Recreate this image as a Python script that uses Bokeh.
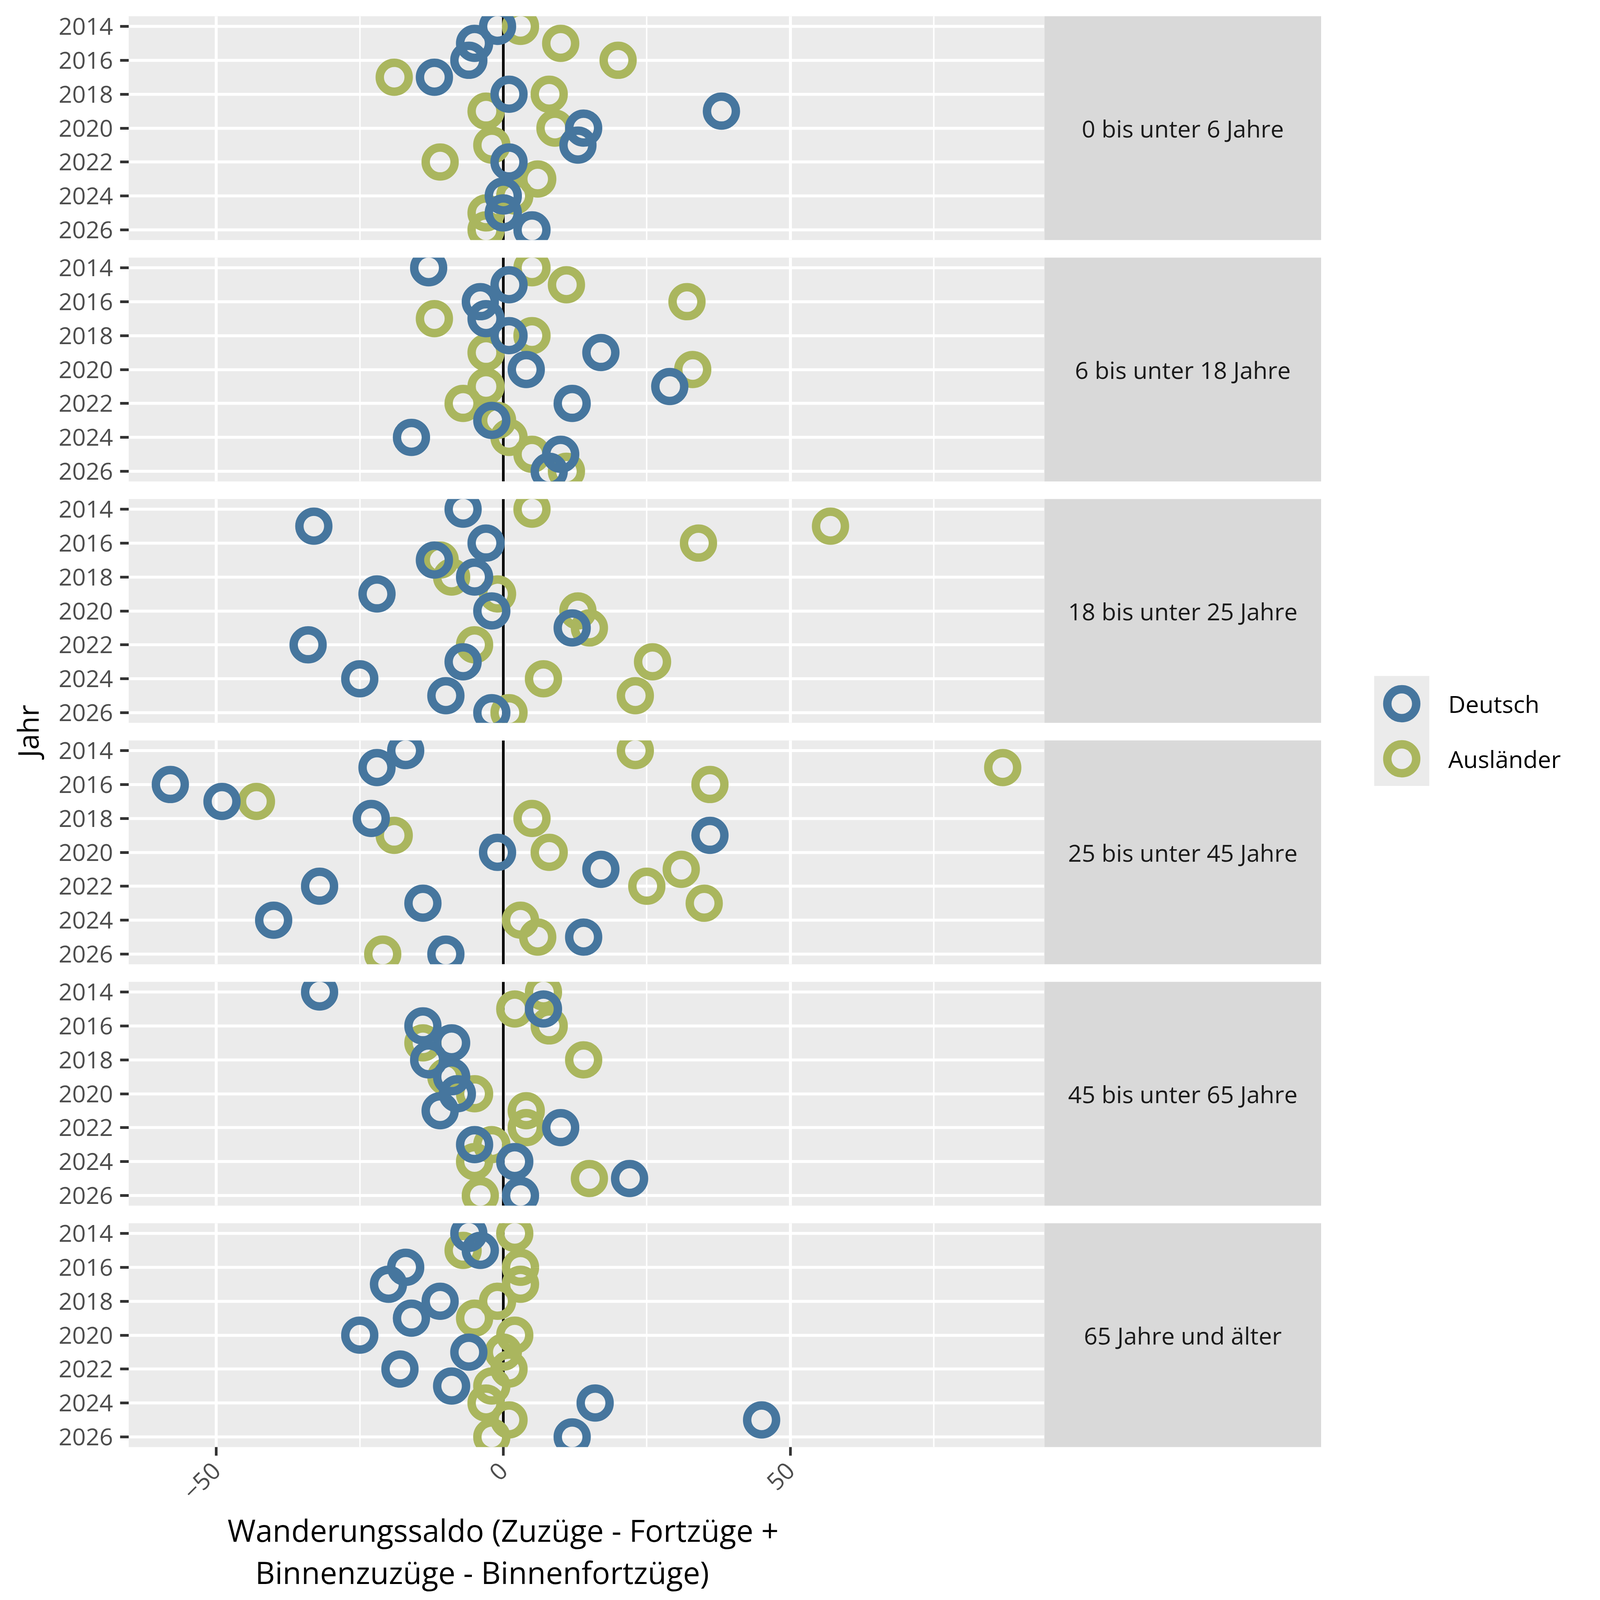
import math
from bokeh.plotting import figure
from bokeh.layouts import row, column
from bokeh.models import Range1d, FixedTicker, Spacer, Title
from bokeh.core.properties import value
from bokeh.embed import file_html
from bokeh.resources import INLINE

# ---------------- data ----------------
nan = float("nan")
years = list(range(2014, 2027))
age_groups = ["0 bis unter 6 Jahre", "6 bis unter 18 Jahre", "18 bis unter 25 Jahre",
              "25 bis unter 45 Jahre", "45 bis unter 65 Jahre", "65 Jahre und älter"]
series_names = ["Deutsch", "Ausländer"]
series_colors = ["#46769E", "#AAB65E"]

deutsch_0_6 = [-1, -5, -6, -12, 1, 38, 14, 13, 1, nan, 0, 0, 5]
auslaender_0_6 = [3, 10, 20, -19, 8, -3, 9, -2, -11, 6, 2, -3, -3]
deutsch_6_18 = [-13, 1, -4, -3, 1, 17, 4, 29, 12, -2, -16, 10, 8]
auslaender_6_18 = [5, 11, 32, -12, 5, -3, 33, -3, -7, -1, 1, 5, 11]
deutsch_18_25 = [-7, -33, -3, -12, -5, -22, -2, 12, -34, -7, -25, -10, -2]
auslaender_18_25 = [5, 57, 34, -11, -9, -1, 13, 15, -5, 26, 7, 23, 1]
deutsch_25_45 = [-17, -22, -58, -49, -23, 36, -1, 17, -32, -14, -40, 14, -10]
auslaender_25_45 = [23, 87, 36, -43, 5, -19, 8, 31, 25, 35, 3, 6, -21]
deutsch_45_65 = [-32, 7, -14, -9, -13, -9, -8, -11, 10, -5, 2, 22, 3]
auslaender_45_65 = [7, 2, 8, -14, 14, -10, -5, 4, 4, -2, -5, 15, -4]
deutsch_65 = [-6, -4, -17, -20, -11, -16, -25, -6, -18, -9, 16, 45, 12]
auslaender_65 = [2, -7, 3, 3, -1, -5, 2, 0, 1, -2, -3, 1, -2]

deutsch = [deutsch_0_6, deutsch_6_18, deutsch_18_25, deutsch_25_45, deutsch_45_65, deutsch_65]
auslaender = [auslaender_0_6, auslaender_6_18, auslaender_18_25, auslaender_25_45,
              auslaender_45_65, auslaender_65]

y_ticks = [2014, 2016, 2018, 2020, 2022, 2024, 2026]
x_ticks = [-50, 0, 50]
x_minor_ticks = [-75, -25, 25, 75]
x_title_lines = ["Wanderungssaldo (Zuzüge - Fortzüge +", "Binnenzuzüge - Binnenfortzüge)"]
y_title = "Jahr"

# ---------------- layout constants (pixels) ----------------
FONT = "Open Sans"
LEFT_W = 120
AXIS_BORDER = 209
FRAME_W = 2344
FRAME_H = 573
STRIP_W = 709
PAD = 22            # white border above/below each panel (room for tick labels)
GAP_SPACER = 1
TOP_SPACER = 19
SIDE_H = 3950
LEGEND_W = 700
MID_W = AXIS_BORDER + FRAME_W + STRIP_W
TITLE_OFFSETS = [253, 324]   # left offset of each x-title line from the panel's left edge
TICK_FONT = "61px"
TITLE_FONT = "78px"
MARK_SIZE = 74
MARK_LW = 21.5

all_vals = [v for grp in deutsch + auslaender for v in grp if v == v]
xmin, xmax = min(all_vals), max(all_vals)
xpad = 0.05 * (xmax - xmin)
x_range = Range1d(xmin - xpad, xmax + xpad)
ypad = 0.05 * (max(years) - min(years))
y_bottom = max(years) + ypad
y_top = min(years) - ypad


def blank_fig(w, h, xr, yr, **kw):
    f = figure(width=w, height=h, x_range=xr, y_range=yr, x_axis_location=None,
               y_axis_location=None, toolbar_location=None, output_backend="svg",
               min_border=0, **kw)
    f.grid.visible = False
    f.outline_line_color = None
    f.background_fill_color = None
    f.border_fill_color = None
    return f


def style_axis(a):
    a.axis_line_color = None
    a.major_tick_out = 22
    a.major_tick_in = 0
    a.major_tick_line_color = "#333333"
    a.major_tick_line_width = 6.8
    a.minor_tick_line_color = None
    a.major_label_text_font = FONT
    a.major_label_text_font_size = TICK_FONT
    a.major_label_text_color = "#4D4D4D"


def make_panel(i, last):
    p = figure(frame_width=FRAME_W, frame_height=FRAME_H, x_range=x_range,
               y_range=Range1d(y_bottom, y_top),
               toolbar_location=None, output_backend="svg",
               min_border_left=AXIS_BORDER, min_border_right=0, min_border_top=PAD,
               min_border_bottom=0 if last else PAD)
    p.background_fill_color = "#EBEBEB"
    p.border_fill_color = "white"
    p.outline_line_color = None
    p.xgrid.ticker = FixedTicker(ticks=x_ticks, minor_ticks=x_minor_ticks)
    p.xgrid.grid_line_color = "white"
    p.xgrid.grid_line_width = 7.5
    p.xgrid.minor_grid_line_color = "white"
    p.xgrid.minor_grid_line_width = 3.7
    p.ygrid.ticker = FixedTicker(ticks=y_ticks)
    p.ygrid.grid_line_color = "white"
    p.ygrid.grid_line_width = 7.5

    ax = p.yaxis[0]
    ax.ticker = FixedTicker(ticks=y_ticks)
    style_axis(ax)
    ax.major_label_standoff = 18

    xa = p.xaxis[0]
    if last:
        xa.ticker = FixedTicker(ticks=x_ticks)
        style_axis(xa)
        xa.major_label_orientation = math.pi / 4
        xa.major_label_standoff = 28
        for line, off in zip(x_title_lines, TITLE_OFFSETS):
            p.add_layout(Title(text=line, align="left", offset=off, standoff=0,
                               text_font=FONT, text_font_size=TITLE_FONT,
                               text_font_style="normal", text_color="black"), "below")
    else:
        xa.visible = False

    p.vspan(x=[0], line_color="black", line_width=6.8)
    p.scatter(x=auslaender[i], y=years, marker="circle", size=MARK_SIZE, fill_color=None,
              line_color=series_colors[1], line_width=MARK_LW)
    p.scatter(x=deutsch[i], y=years, marker="circle", size=MARK_SIZE, fill_color=None,
              line_color=series_colors[0], line_width=MARK_LW)
    return p


def make_strip(i):
    s = figure(frame_width=STRIP_W, frame_height=FRAME_H, x_range=Range1d(0, 1),
               y_range=Range1d(0, 1), x_axis_location=None, y_axis_location=None,
               toolbar_location=None, output_backend="svg", min_border=0,
               min_border_top=PAD, min_border_bottom=PAD)
    s.grid.visible = False
    s.outline_line_color = None
    s.background_fill_color = "#D9D9D9"
    s.border_fill_color = "white"
    s.text(x=[0.5], y=[0.5], text=[age_groups[i]], text_align="center",
           text_baseline="middle", text_font=value(FONT), text_font_size=TICK_FONT,
           text_color="#1A1A1A")
    return s


children = [Spacer(width=MID_W, height=TOP_SPACER)]
for i in range(6):
    last = i == 5
    children.append(row(make_panel(i, last), make_strip(i)))
    if not last:
        children.append(Spacer(width=MID_W, height=GAP_SPACER))
middle = column(*children)

# y-axis title
jf = blank_fig(LEFT_W, SIDE_H, Range1d(0, LEFT_W), Range1d(SIDE_H, 0))
jf.text(x=[70], y=[1871], text=[y_title], angle=math.pi / 2, text_align="center",
        text_baseline="middle", text_font=value(FONT), text_font_size="73px",
        text_color="black")

# legend
lf = blank_fig(LEGEND_W, SIDE_H, Range1d(0, LEGEND_W), Range1d(SIDE_H, 0))
lf.quad(left=[135.5], right=[276.5], top=[1730], bottom=[2011.5], fill_color="#EBEBEB",
        line_color=None)
key_y = [1801, 1942]
lf.scatter(x=[206, 206], y=key_y, marker="circle", size=MARK_SIZE, fill_color=None,
           line_color=series_colors, line_width=MARK_LW)
lf.text(x=[325, 325], y=key_y, text=series_names, text_align="left",
        text_baseline="middle", text_font=value(FONT), text_font_size=TICK_FONT,
        text_color="black")

layout = row(jf, middle, lf)

with open("out.html", "w") as fh:
    fh.write(file_html(layout, INLINE, title="Wanderungssaldo"))
